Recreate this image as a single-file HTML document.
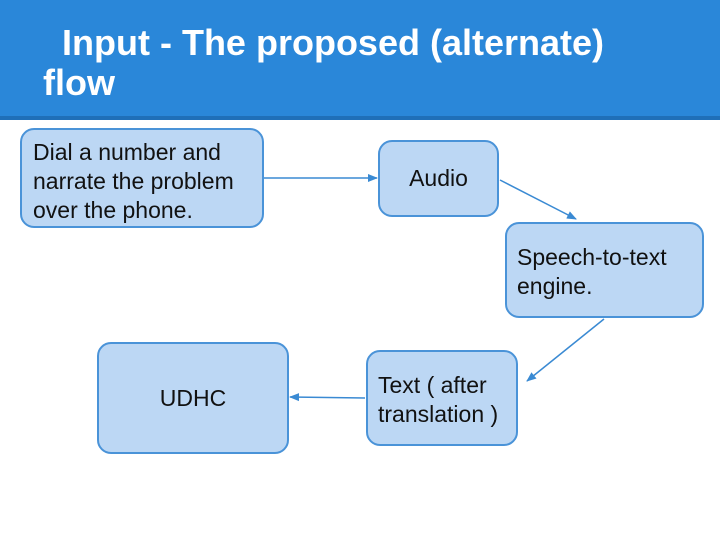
<!DOCTYPE html>
<html><head><style>
body{margin:0;width:720px;height:540px;background:#fff;position:relative;overflow:hidden;font-family:"Liberation Sans",sans-serif}
.hdr{position:absolute;left:0;top:0;width:720px;height:116px;background:#2a87d9;border-bottom:4px solid #1f6fb8}
.t{position:absolute;color:#fff;font-weight:bold;font-size:36px;white-space:nowrap;line-height:40px}
.b{position:absolute;box-sizing:border-box;background:#bcd7f4;border:2px solid #4a93d8;border-radius:14px;font-size:23px;color:#111;line-height:29px;white-space:nowrap}
</style></head><body>
<div class="hdr"></div>
<div class="t" style="left:62px;top:23px">Input - The proposed (alternate)</div>
<div class="t" style="left:43px;top:63px">flow</div>
<div class="b" style="left:20px;top:128px;width:244px;height:100px;padding:8px 0 0 11px">Dial a number and<br>narrate the problem<br>over the phone.</div>
<div class="b" style="left:378px;top:140px;width:121px;height:77px;text-align:center;padding-top:22px">Audio</div>
<div class="b" style="left:505px;top:222px;width:199px;height:96px;padding:19px 0 0 10px">Speech-to-text<br>engine.</div>
<div class="b" style="left:366px;top:350px;width:152px;height:96px;padding:19px 0 0 10px">Text ( after<br>translation )</div>
<div class="b" style="left:97px;top:342px;width:192px;height:112px;text-align:center;padding-top:40px">UDHC</div>
<svg width="720" height="540" style="position:absolute;left:0;top:0">
<defs><marker id="a" markerWidth="10" markerHeight="10" refX="9" refY="5" orient="auto" markerUnits="userSpaceOnUse"><path d="M0,1 L10,5 L0,9z" fill="#3a8ad3"/></marker></defs>
<g stroke="#3a8ad3" stroke-width="1.5" fill="none" marker-end="url(#a)">
<line x1="264" y1="178" x2="377" y2="178"/>
<line x1="500" y1="180" x2="576" y2="219"/>
<line x1="604" y1="319" x2="527" y2="381"/>
<line x1="365" y1="398" x2="290" y2="397"/>
</g></svg>
</body></html>
